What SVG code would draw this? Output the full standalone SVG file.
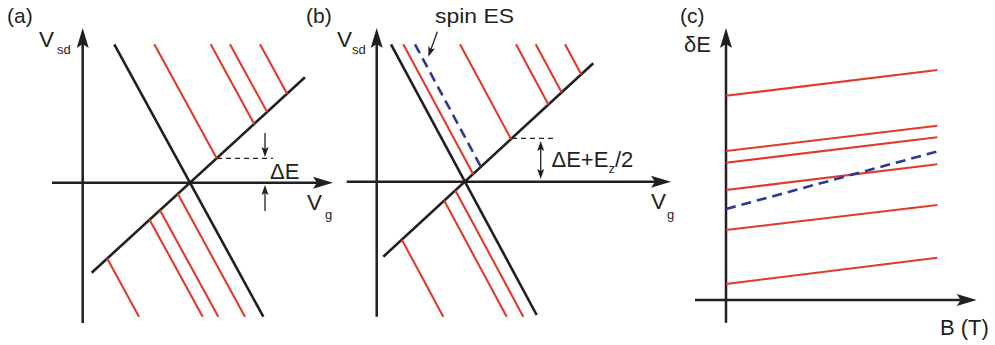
<svg xmlns="http://www.w3.org/2000/svg" width="995" height="345" viewBox="0 0 995 345">
<style>
text{font-family:"Liberation Sans",Arial,sans-serif;fill:#231f20}
.lbl{font-size:21px}
.big{font-size:22px}
.v{font-size:22.5px}
.sub{font-size:13px}
.ax{stroke:#231f20;stroke-width:2.5;fill:none}
.blk{stroke:#231f20;stroke-width:2.6;fill:none}
.red{stroke:#e03a2b;stroke-width:2.1;fill:none}
.blu{stroke:#2b3990;stroke-width:2.6;fill:none;stroke-dasharray:10 6}
.dsh{stroke:#231f20;stroke-width:1.2;fill:none;stroke-dasharray:5 4}
.thin{stroke:#231f20;stroke-width:1.3;fill:none}
</style>
<defs>
<marker id="ah" markerUnits="userSpaceOnUse" markerWidth="30" markerHeight="20" refX="0" refY="0" orient="auto" overflow="visible"><path d="M14,0 L-6,-6 L-2,0 L-6,6 Z" fill="#231f20"/></marker>
<marker id="sa" markerUnits="userSpaceOnUse" markerWidth="20" markerHeight="12" refX="0" refY="0" orient="auto-start-reverse" overflow="visible"><path d="M7,0 L-3,-3.5 L-1,0 L-3,3.5 Z" fill="#231f20"/></marker>
</defs>

<g id="panel-a">
<text class="lbl" x="7" y="23">(a)</text>
<text class="v" x="39" y="47">V</text><text class="sub" x="57" y="54">sd</text>
<text class="v" x="307" y="210">V</text><text class="sub" x="325" y="219">g</text>
<line class="ax" x1="82.7" y1="323" x2="82.7" y2="42" marker-end="url(#ah)"/>
<line class="ax" x1="52" y1="182.7" x2="319" y2="182.7" marker-end="url(#ah)"/>
<line class="blk" x1="114.3" y1="44.3" x2="263.3" y2="316.7"/>
<line class="blk" x1="91.7" y1="272.7" x2="305" y2="77.3"/>
<line class="red" x1="154.3" y1="44.3" x2="216.7" y2="158.3"/>
<line class="red" x1="210.7" y1="44.3" x2="254.2" y2="123.9"/>
<line class="red" x1="230" y1="44.3" x2="267.1" y2="112.1"/>
<line class="red" x1="260" y1="44.3" x2="287.1" y2="93.8"/>
<line class="red" x1="107.2" y1="258.5" x2="139" y2="316.7"/>
<line class="red" x1="149.6" y1="219.7" x2="202.7" y2="316.7"/>
<line class="red" x1="160" y1="210.2" x2="218.3" y2="316.7"/>
<line class="red" x1="177.8" y1="193.8" x2="245" y2="316.7"/>
<line class="dsh" x1="217" y1="158.3" x2="273" y2="158.3"/>
<line class="thin" x1="265" y1="133" x2="265" y2="150" marker-end="url(#sa)"/>
<line class="thin" x1="265" y1="211" x2="265" y2="192" marker-end="url(#sa)"/>
<text class="big" x="270" y="179">ΔE</text>
</g>

<g id="panel-b">
<text class="lbl" x="306" y="23">(b)</text>
<text class="v" x="337" y="47">V</text><text class="sub" x="352" y="54">sd</text>
<text class="v" x="651" y="209">V</text><text class="sub" x="667" y="219">g</text>
<text class="lbl" x="435" y="23" textLength="79" lengthAdjust="spacingAndGlyphs">spin ES</text>
<line class="ax" x1="376.7" y1="316.7" x2="376.7" y2="42" marker-end="url(#ah)"/>
<line class="ax" x1="346.7" y1="181.7" x2="657" y2="181.7" marker-end="url(#ah)"/>
<line class="blk" x1="391" y1="44.3" x2="536.7" y2="315"/>
<line class="blk" x1="383.3" y1="256.7" x2="593.3" y2="63.3"/>
<line class="red" x1="403.3" y1="44.3" x2="473.2" y2="174.2"/>
<line class="red" x1="460" y1="44.3" x2="511.1" y2="139.2"/>
<line class="red" x1="516" y1="44.3" x2="548.5" y2="104.7"/>
<line class="red" x1="535.7" y1="44.3" x2="561.7" y2="92.6"/>
<line class="red" x1="565" y1="44.3" x2="581.3" y2="74.6"/>
<line class="red" x1="401.9" y1="239.8" x2="443.3" y2="316.7"/>
<line class="red" x1="444.3" y1="200.8" x2="506.7" y2="316.7"/>
<line class="red" x1="455.4" y1="190.5" x2="523.3" y2="316.7"/>
<line class="blu" x1="415" y1="44.3" x2="481" y2="167"/>
<line class="dsh" x1="512" y1="138.3" x2="554" y2="138.3"/>
<line class="thin" x1="540.7" y1="148" x2="540.7" y2="172" marker-start="url(#sa)" marker-end="url(#sa)"/>
<line class="thin" x1="437.3" y1="31.7" x2="430.7" y2="50.1" marker-end="url(#sa)"/>
<text class="big" x="551.5" y="167">ΔE+E<tspan class="sub" dy="6">z</tspan><tspan dy="-6">/2</tspan></text>
</g>

<g id="panel-c">
<text class="lbl" x="680" y="23">(c)</text>
<text class="big" x="684" y="52">δE</text>
<text class="big" x="940" y="335">B (T)</text>
<line class="ax" x1="726" y1="322.7" x2="726" y2="42" marker-end="url(#ah)"/>
<line class="ax" x1="695" y1="300" x2="962.7" y2="300" marker-end="url(#ah)"/>
<line class="red" x1="726" y1="95.7" x2="937.3" y2="70"/>
<line class="red" x1="726" y1="151" x2="937.3" y2="125.7"/>
<line class="red" x1="726" y1="162.7" x2="937.3" y2="137.3"/>
<line class="red" x1="726" y1="190" x2="937.3" y2="164.3"/>
<line class="red" x1="726" y1="230" x2="937.3" y2="205"/>
<line class="red" x1="726" y1="284" x2="937.3" y2="257.7"/>
<line class="blu" x1="726" y1="209" x2="939" y2="151"/>
</g>
</svg>
